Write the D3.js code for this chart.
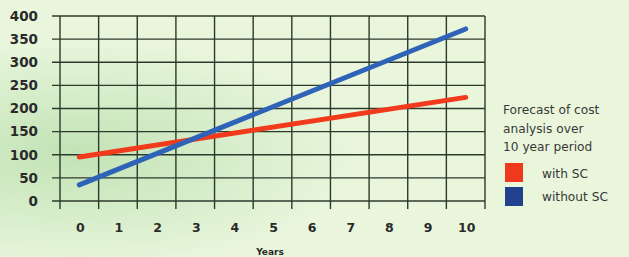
<!DOCTYPE html>
<html>
<head>
<meta charset="utf-8">
<script src="https://cdn.jsdelivr.net/npm/d3@7"></script>
<style>
  body { margin: 0; background: #eaf6dc; }
  svg { display: block; }
</style>
</head>
<body>
<svg width="629" height="257"></svg>
<script>
// data
const years = [0, 1, 2, 3, 4, 5, 6, 7, 8, 9, 10]
const yTicks = [0, 50, 100, 150, 200, 250, 300, 350, 400]
const withSC = [{year: 0, cost: 95}, {year: 10, cost: 224}]
const withoutSC = [{year: 0, cost: 35}, {year: 10, cost: 372}]
const legendTitle = ["Forecast of cost", "analysis over", "10 year period"]
const legendItems = [
    {label: "with SC", color: "#f0391c"},
    {label: "without SC", color: "#21418e"}
]

let svg = d3.select("svg")

// background, pale green with a darker blob on the left
let defs = svg.append("defs")
let grad = defs.append("radialGradient")
    .attr("id", "blob")
    .attr("cx", "0.12").attr("cy", "0.6").attr("r", "0.45")
grad.append("stop").attr("offset", "0%").attr("stop-color", "#c2e3b6")
grad.append("stop").attr("offset", "100%").attr("stop-color", "#e9f6dc")
svg.append("rect").attr("width", 629).attr("height", 257).attr("fill", "url(#blob)")

const plotLeft = 60, plotRight = 485, plotTop = 16, plotBottom = 201

let x = d3.scaleBand()
    .domain(years)
    .range([plotLeft, plotRight])
    .padding(0)

let y = d3.scaleLinear()
    .domain([0, 400])
    .range([plotBottom, plotTop])

let grid = svg.append("g")
    .attr("stroke", "#2c3a2c")
    .attr("stroke-width", 1.4)

// horizontal grid lines
grid.selectAll(".h")
    .data(yTicks)
    .join("line")
    .attr("x1", plotLeft - 8)
    .attr("x2", plotRight)
    .attr("y1", d => y(d))
    .attr("y2", d => y(d))

// vertical grid lines on the band edges
let edges = years.map(d => x(d)).concat([x(years[years.length - 1]) + x.step()])
grid.selectAll(".v")
    .data(edges)
    .join("line")
    .attr("x1", d => d)
    .attr("x2", d => d)
    .attr("y1", plotTop)
    .attr("y2", plotBottom + 8)

// y labels
svg.append("g")
    .selectAll("text")
    .data(yTicks)
    .join("text")
    .attr("x", 38)
    .attr("y", d => y(d))
    .attr("dy", "0.36em")
    .attr("text-anchor", "end")
    .attr("font-family", "DejaVu Sans")
    .attr("font-weight", "bold")
    .attr("font-size", 13.5)
    .attr("fill", "#2a2a2a")
    .text(d => d)

// x labels
svg.append("g")
    .selectAll("text")
    .data(years)
    .join("text")
    .attr("x", d => x(d) + x.bandwidth() / 2 + 1)
    .attr("y", 227)
    .attr("dy", "0.36em")
    .attr("text-anchor", "middle")
    .attr("font-family", "DejaVu Sans")
    .attr("font-weight", "bold")
    .attr("font-size", 12.5)
    .attr("fill", "#2a2a2a")
    .text(d => d)

svg.append("text")
    .attr("x", 270)
    .attr("y", 252)
    .attr("dy", "0.36em")
    .attr("text-anchor", "middle")
    .attr("font-family", "DejaVu Sans")
    .attr("font-weight", "bold")
    .attr("font-size", 9)
    .attr("fill", "#2a2a2a")
    .text("Years")

// lines
let line = d3.line()
    .x(d => x(d.year) + x.bandwidth() / 2)
    .y(d => y(d.cost))

svg.append("path")
    .datum(withSC)
    .attr("d", line)
    .attr("fill", "none")
    .attr("stroke", "#f23b1d")
    .attr("stroke-width", 5)
    .attr("stroke-linecap", "round")

svg.append("path")
    .datum(withoutSC)
    .attr("d", line)
    .attr("fill", "none")
    .attr("stroke", "#2f63b8")
    .attr("stroke-width", 5)
    .attr("stroke-linecap", "round")

// legend
let legend = svg.append("g")
    .attr("font-family", "DejaVu Sans")
    .attr("font-size", 12.2)
    .attr("fill", "#383838")

legend.selectAll(".title")
    .data(legendTitle)
    .join("text")
    .attr("x", 503)
    .attr("y", (d, i) => 110 + i * 18.5)
    .attr("dy", "0.36em")
    .text(d => d)

let items = legend.selectAll(".item")
    .data(legendItems)
    .join("g")
    .attr("transform", (d, i) => `translate(505, ${163 + i * 24})`)

items.append("rect")
    .attr("width", 18)
    .attr("height", 19)
    .attr("fill", d => d.color)

items.append("text")
    .attr("x", 37)
    .attr("y", (d, i) => i === 0 ? 11 : 10)
    .attr("dy", "0.36em")
    .text(d => d.label)
</script>
</body>
</html>
